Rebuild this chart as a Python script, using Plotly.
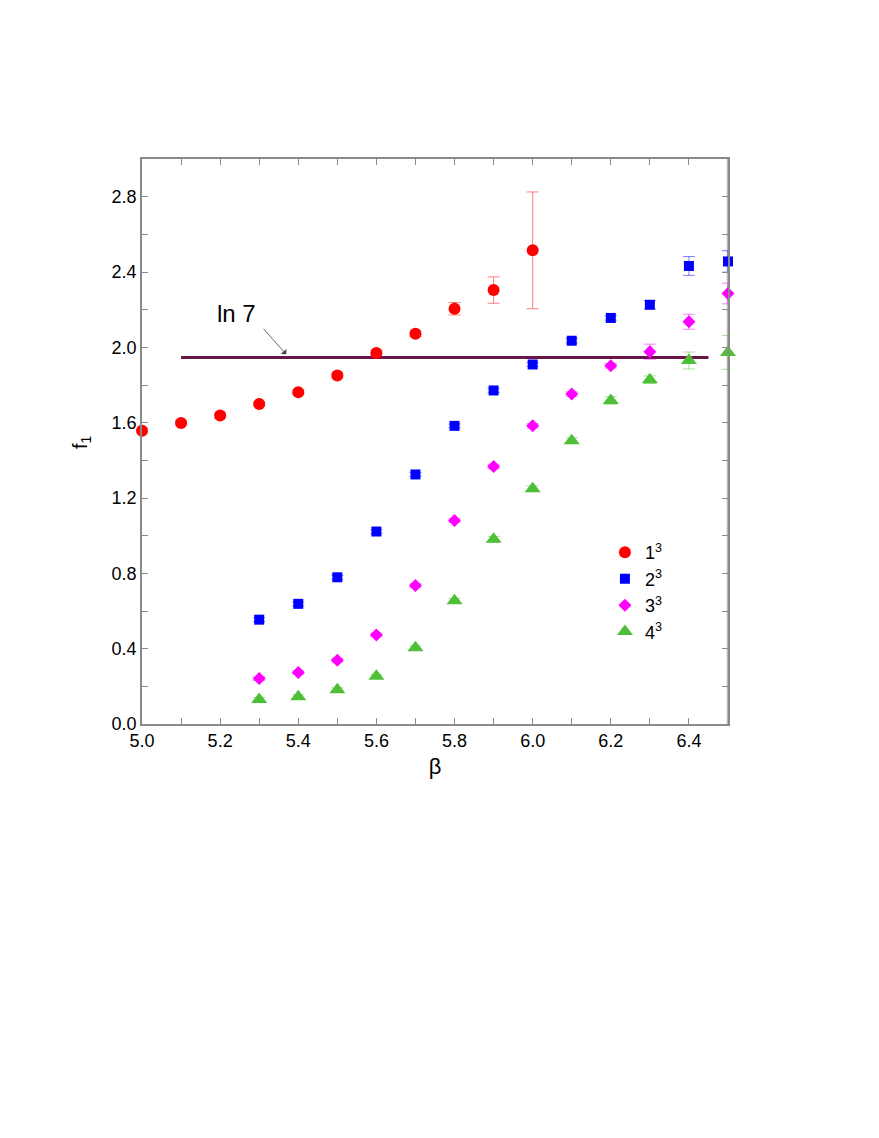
import math
import plotly.graph_objects as go

beta_1 = [5.0, 5.1, 5.2, 5.3, 5.4, 5.5, 5.6, 5.7, 5.8, 5.9, 6.0]
f_1 = [1.557, 1.598, 1.638, 1.699, 1.762, 1.851, 1.970, 2.072, 2.205, 2.304, 2.515]
e_1 = [0.012, 0.012, 0.012, 0.012, 0.012, 0.012, 0.015, 0.015, 0.033, 0.07, 0.31]

beta_2 = [5.3, 5.4, 5.5, 5.6, 5.7, 5.8, 5.9, 6.0, 6.1, 6.2, 6.3, 6.4, 6.5]
f_2 = [0.554, 0.638, 0.779, 1.022, 1.325, 1.583, 1.771, 1.909, 2.035, 2.156, 2.226, 2.432, 2.456]
e_2 = [0.01, 0.01, 0.01, 0.01, 0.01, 0.01, 0.01, 0.01, 0.012, 0.012, 0.022, 0.05, 0.057]

beta_3 = [5.3, 5.4, 5.5, 5.6, 5.7, 5.8, 5.9, 6.0, 6.1, 6.2, 6.3, 6.4, 6.5]
f_3 = [0.241, 0.273, 0.338, 0.473, 0.735, 1.080, 1.367, 1.583, 1.752, 1.902, 1.977, 2.136, 2.286]
e_3 = [0.01, 0.01, 0.01, 0.01, 0.01, 0.01, 0.012, 0.012, 0.012, 0.012, 0.04, 0.04, 0.055]

beta_4 = [5.3, 5.4, 5.5, 5.6, 5.7, 5.8, 5.9, 6.0, 6.1, 6.2, 6.3, 6.4, 6.5]
f_4 = [0.130, 0.145, 0.182, 0.253, 0.405, 0.654, 0.981, 1.249, 1.504, 1.718, 1.828, 1.930, 1.973]
e_4 = [0.01, 0.01, 0.01, 0.01, 0.01, 0.012, 0.015, 0.015, 0.015, 0.02, 0.02, 0.045, 0.09]

series_names = ["1<sup>3</sup>", "2<sup>3</sup>", "3<sup>3</sup>", "4<sup>3</sup>"]
ln7_x = [5.1, 6.45]
ln7_value = math.log(7)

x_tickvals = [5.0, 5.1, 5.2, 5.3, 5.4, 5.5, 5.6, 5.7, 5.8, 5.9, 6.0, 6.1, 6.2, 6.3, 6.4, 6.5]
x_ticktext = ["5.0", "", "5.2", "", "5.4", "", "5.6", "", "5.8", "", "6.0", "", "6.2", "", "6.4", ""]
y_tickvals = [0.0, 0.2, 0.4, 0.6, 0.8, 1.0, 1.2, 1.4, 1.6, 1.8, 2.0, 2.2, 2.4, 2.6, 2.8, 3.0]
y_ticktext = ["0.0", "", "0.4", "", "0.8", "", "1.2", "", "1.6", "", "2.0", "", "2.4", "", "2.8", ""]

colors = ["#ff0000", "#0000ff", "#ff00ff", "#4fbf38"]
err_colors = ["rgba(255,0,0,0.5)", "rgba(0,0,255,0.5)", "rgba(255,0,255,0.5)", "rgba(79,191,56,0.5)"]
symbols = ["circle", "square", "diamond", "triangle-up"]
sizes = [12, 10, 10, 14]

fig = go.Figure()

fig.add_trace(go.Scatter(
    x=ln7_x, y=[ln7_value, ln7_value], mode="lines",
    line=dict(color="#6a1548", width=3), showlegend=False, hoverinfo="skip"))

data = [(beta_1, f_1, e_1), (beta_2, f_2, e_2), (beta_3, f_3, e_3), (beta_4, f_4, e_4)]
for i, (bx, fy, ey) in enumerate(data):
    fig.add_trace(go.Scatter(
        x=bx, y=fy, mode="markers", name=series_names[i],
        marker=dict(symbol=symbols[i], size=sizes[i], color=colors[i], line=dict(width=0)),
        error_y=dict(type="data", array=ey, visible=True, color=err_colors[i], thickness=1, width=6),
        cliponaxis=False))

font_family = "Liberation Sans, Arial, Helvetica, sans-serif"

fig.add_annotation(x=5.369, y=1.963, ax=-24, ay=-27, xref="x", yref="y",
                   showarrow=True, arrowhead=1, arrowsize=1.6, arrowwidth=0.8,
                   arrowcolor="#444444", text="")
fig.add_annotation(x=5.242, y=2.178, xref="x", yref="y", text="ln 7", showarrow=False,
                   font=dict(size=24, color="black", family=font_family))
fig.add_annotation(x=-0.128, y=0.5, xref="paper", yref="paper", text="f<sub>1</sub>",
                   textangle=-90, showarrow=False,
                   font=dict(size=20, color="black", family=font_family))

axis_common = dict(showgrid=False, zeroline=False, showline=True, linecolor="#8a8a8a",
                   linewidth=1.5, mirror="allticks", ticks="inside", ticklen=6,
                   tickcolor="#8a8a8a", tickwidth=1,
                   tickfont=dict(size=18, color="black", family=font_family))

fig.update_xaxes(range=[5.0, 6.5], tickmode="array", tickvals=x_tickvals, ticktext=x_ticktext,
                 title=dict(text="β", font=dict(size=22, color="black", family=font_family), standoff=8),
                 **axis_common)
fig.update_yaxes(range=[0.0, 3.0], tickmode="array", tickvals=y_tickvals, ticktext=y_ticktext,
                 **axis_common)

fig.add_shape(type="line", xref="paper", yref="paper", x0=1, x1=1, y0=0, y1=1,
              line=dict(color="#b8b8b8", width=2.5), layer="below")

fig.update_layout(
    width=879, height=1138,
    margin=dict(l=134, r=159, t=151, b=422),
    plot_bgcolor="white", paper_bgcolor="white",
    font=dict(family=font_family, color="black"),
    legend=dict(x=0.79, y=0.336, xanchor="left", yanchor="top",
                font=dict(size=18, color="black", family=font_family),
                bgcolor="rgba(0,0,0,0)", tracegroupgap=0, itemwidth=30),
    showlegend=True,
)

fig.write_html("out.html")
